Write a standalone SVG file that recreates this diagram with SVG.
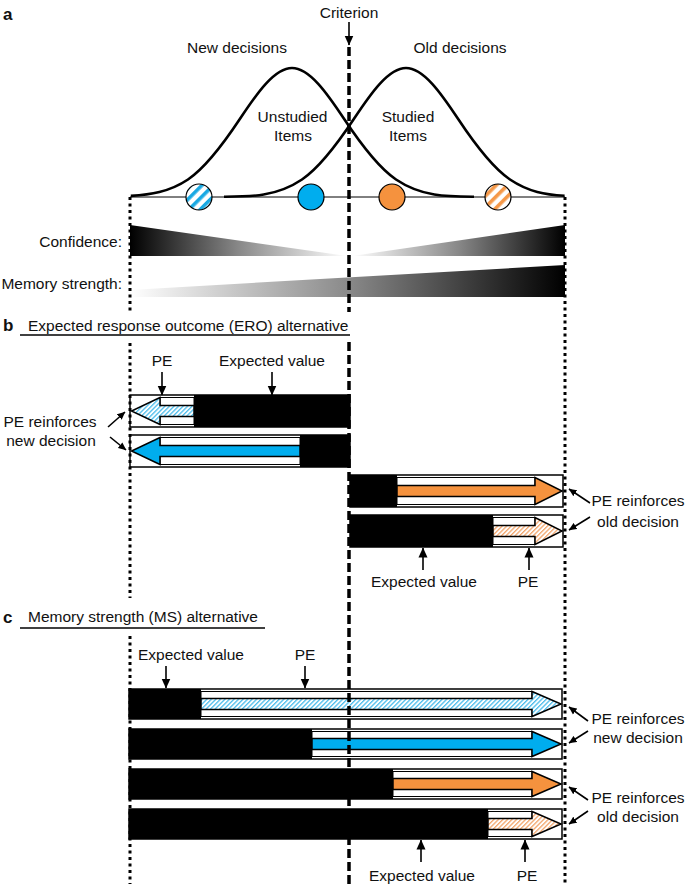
<svg xmlns="http://www.w3.org/2000/svg" width="685" height="884" viewBox="0 0 685 884">
<style>
text{font-family:"Liberation Sans",Arial,sans-serif;font-size:15.5px;fill:#111}
.lbl{font-weight:bold;font-size:17px}
.mid{text-anchor:middle}
.end{text-anchor:end}
.curve{fill:none;stroke:#000;stroke-width:2.6}
.dot{stroke:#000;stroke-width:3;stroke-dasharray:3 3.5;fill:none}
.dash{stroke:#000;stroke-width:3.5;stroke-dasharray:9 4;fill:none}
.box{fill:#fff;stroke:#000;stroke-width:1.5}
.blk{fill:#000}
.inner{fill:#fff;stroke:#000;stroke-width:1}
.arr{stroke:#000;stroke-width:1.5;stroke-linejoin:miter}
.ln{stroke:#000;stroke-width:1.6;fill:none}
.under{stroke:#000;stroke-width:1.5}
</style>
<defs>
<marker id="ah" viewBox="0 0 10 10" refX="9.5" refY="5" markerWidth="10" markerHeight="10" markerUnits="userSpaceOnUse" orient="auto"><path d="M0,0.5 L10,5 L0,9.5 z" fill="#000"/></marker>
<marker id="ahs" viewBox="0 0 10 10" refX="9.5" refY="5" markerWidth="8" markerHeight="8" markerUnits="userSpaceOnUse" orient="auto"><path d="M0,0.5 L10,5 L0,9.5 z" fill="#000"/></marker>
<pattern id="hb" width="3.2" height="3.2" patternUnits="userSpaceOnUse" patternTransform="rotate(45)"><rect width="3.2" height="3.2" fill="#fff"/><rect width="1.3" height="3.2" fill="#4dbdec"/></pattern>
<pattern id="ho" width="3.2" height="3.2" patternUnits="userSpaceOnUse" patternTransform="rotate(45)"><rect width="3.2" height="3.2" fill="#fff"/><rect width="1.3" height="3.2" fill="#f3a66c"/></pattern>
<pattern id="sb" width="8" height="8" patternUnits="userSpaceOnUse" patternTransform="rotate(45)"><rect width="8" height="8" fill="#fff"/><rect width="3.6" height="8" fill="#1aa9e3"/></pattern>
<pattern id="so" width="8" height="8" patternUnits="userSpaceOnUse" patternTransform="rotate(45)"><rect width="8" height="8" fill="#fff"/><rect width="3.6" height="8" fill="#f59848"/></pattern>
<linearGradient id="gl" gradientUnits="userSpaceOnUse" x1="130" y1="0" x2="347" y2="0"><stop offset="0" stop-color="#000"/><stop offset="0.5" stop-color="#888"/><stop offset="1" stop-color="#fff"/></linearGradient>
<linearGradient id="gr" gradientUnits="userSpaceOnUse" x1="352" y1="0" x2="565" y2="0"><stop offset="0" stop-color="#fff"/><stop offset="0.5" stop-color="#888"/><stop offset="1" stop-color="#000"/></linearGradient>
<linearGradient id="gm" gradientUnits="userSpaceOnUse" x1="130" y1="0" x2="565" y2="0"><stop offset="0" stop-color="#fff"/><stop offset="0.5" stop-color="#8a8a8a"/><stop offset="1" stop-color="#000"/></linearGradient>
</defs>

<!-- Panel a -->
<g id="panel-a">
<text class="lbl" x="3" y="20">a</text>
<text class="mid" x="349" y="17.5">Criterion</text>
<text class="mid" x="237" y="52.5">New decisions</text>
<text class="mid" x="460" y="52.5">Old decisions</text>
<line x1="130" y1="197" x2="565" y2="197" stroke="#000" stroke-width="1"/>
<path id="curve-new" class="curve" d="M130.8,195.9 C149.8,194.7 169,192.2 188,179.5 C205.3,167.9 222.7,144.9 240,118.8 C257.3,92.7 274.7,68 292,68 C309.3,68 326.7,92.7 344,118.8 C361.3,144.9 378.7,167.9 396,179.5 C422,197 448,196.7 474,196.7"/>
<path id="curve-old" class="curve" d="M224,196.7 C250,196.7 276,197 302,179.5 C319.3,167.9 336.7,144.9 354,118.8 C371.3,92.7 388.7,68 406,68 C423.3,68 440.7,92.7 458,118.8 C475.3,144.9 492.7,167.9 510,179.5 C529,192.2 545.6,194.6 564.6,195.8"/>
<text class="mid" x="292.5" y="121.5">Unstudied</text>
<text class="mid" x="293" y="140.5">Items</text>
<text class="mid" x="408" y="121.5">Studied</text>
<text class="mid" x="408" y="140.5">Items</text>
<circle cx="199" cy="197" r="13" fill="url(#sb)" stroke="#000" stroke-width="1.2"/>
<circle cx="311" cy="197" r="13" fill="#00adee" stroke="#000" stroke-width="1.2"/>
<circle cx="392" cy="197" r="13" fill="#f5923e" stroke="#000" stroke-width="1.2"/>
<circle cx="498" cy="197" r="13" fill="url(#so)" stroke="#000" stroke-width="1.2"/>
<text class="end" x="122" y="246.5">Confidence:</text>
<polygon points="130,225 347,256 130,256" fill="url(#gl)"/>
<polygon points="352,256 565,225 565,256" fill="url(#gr)"/>
<text class="end" x="122" y="288.5">Memory strength:</text>
<polygon points="130,290 565,265 565,297 130,297" fill="url(#gm)"/>
</g>

<!-- Panel b -->
<g id="panel-b-title">
<text class="lbl" x="3" y="331">b</text>
<text x="28" y="330.5">Expected response outcome (ERO) alternative</text>
<line class="under" x1="20" y1="335" x2="350" y2="335"/>
</g>
<g id="bar-b1">
<rect class="box" x="130" y="395" width="220" height="32"/>
<rect class="blk" x="194" y="395" width="156" height="32"/>
<rect class="inner" x="160" y="397.5" width="34" height="27"/>
<polygon class="arr" fill="url(#hb)" points="194,405.5 160,405.5 160,397.5 131.5,411 160,424.5 160,416.5 194,416.5"/>
</g>
<g id="bar-b2">
<rect class="box" x="130" y="435" width="220" height="32"/>
<rect class="blk" x="300" y="435" width="50" height="32"/>
<rect class="inner" x="160" y="437.5" width="140" height="27"/>
<polygon class="arr" fill="#00adee" points="300,445.5 160,445.5 160,437.5 131.5,451 160,464.5 160,456.5 300,456.5"/>
</g>
<g id="bar-b3">
<rect class="box" x="350" y="475" width="213" height="32"/>
<rect class="blk" x="350" y="475" width="47" height="32"/>
<rect class="inner" x="397" y="477.5" width="138" height="27"/>
<polygon class="arr" fill="#f5923e" points="397,485.5 535,485.5 535,477.5 562,491 535,504.5 535,496.5 397,496.5"/>
</g>
<g id="bar-b4">
<rect class="box" x="350" y="515" width="213" height="32"/>
<rect class="blk" x="350" y="515" width="143" height="32"/>
<rect class="inner" x="493" y="517.5" width="42" height="27"/>
<polygon class="arr" fill="url(#ho)" points="493,525.5 535,525.5 535,517.5 562,531 535,544.5 535,536.5 493,536.5"/>
</g>
<g id="labels-b">
<text class="mid" x="162" y="365.5">PE</text>
<text class="mid" x="272" y="365.5">Expected value</text>
<text class="mid" x="50" y="427">PE reinforces</text>
<text class="mid" x="51" y="445.5">new decision</text>
<text class="mid" x="638" y="505.5">PE reinforces</text>
<text class="mid" x="638" y="527">old decision</text>
<text class="mid" x="424" y="587">Expected value</text>
<text class="mid" x="528" y="587">PE</text>
</g>

<!-- Panel c -->
<g id="panel-c-title">
<text class="lbl" x="3" y="622.5">c</text>
<text x="28" y="622">Memory strength (MS) alternative</text>
<line class="under" x1="20" y1="628" x2="265" y2="628"/>
</g>
<g id="bar-c1">
<rect class="box" x="129" y="689" width="433" height="30"/>
<rect class="blk" x="129" y="689" width="72" height="30"/>
<rect class="inner" x="201" y="691.5" width="331" height="25"/>
<polygon class="arr" fill="url(#hb)" points="201,698.5 532,698.5 532,691.5 561,704 532,716.5 532,709.5 201,709.5"/>
</g>
<g id="bar-c2">
<rect class="box" x="129" y="729" width="433" height="30"/>
<rect class="blk" x="129" y="729" width="183" height="30"/>
<rect class="inner" x="312" y="731.5" width="220" height="25"/>
<polygon class="arr" fill="#00adee" points="312,738.5 532,738.5 532,731.5 561,744 532,756.5 532,749.5 312,749.5"/>
</g>
<g id="bar-c3">
<rect class="box" x="129" y="769" width="433" height="30"/>
<rect class="blk" x="129" y="769" width="264" height="30"/>
<rect class="inner" x="393" y="771.5" width="139" height="25"/>
<polygon class="arr" fill="#f5923e" points="393,778.5 532,778.5 532,771.5 561,784 532,796.5 532,789.5 393,789.5"/>
</g>
<g id="bar-c4">
<rect class="box" x="129" y="809" width="433" height="30"/>
<rect class="blk" x="129" y="809" width="359" height="30"/>
<rect class="inner" x="488" y="811.5" width="44" height="25"/>
<polygon class="arr" fill="url(#ho)" points="488,818.5 532,818.5 532,811.5 561,824 532,836.5 532,829.5 488,829.5"/>
</g>
<g id="labels-c">
<text class="mid" x="191" y="659.5">Expected value</text>
<text class="mid" x="305" y="659.5">PE</text>
<text class="mid" x="638" y="723.5">PE reinforces</text>
<text class="mid" x="638" y="742.5">new decision</text>
<text class="mid" x="638" y="802.5">PE reinforces</text>
<text class="mid" x="638" y="821.5">old decision</text>
<text class="mid" x="422" y="880.5">Expected value</text>
<text class="mid" x="527" y="880.5">PE</text>
</g>

<!-- guide lines -->
<g id="guides">
<line class="dot" x1="130" y1="197" x2="130" y2="311"/>
<line class="dot" x1="130" y1="343" x2="130" y2="598"/>
<line class="dot" x1="130" y1="636" x2="130" y2="884"/>
<line class="dot" x1="565" y1="197" x2="565" y2="884"/>
<line class="dash" x1="349" y1="47" x2="349" y2="312"/>
<line class="dash" x1="349" y1="342" x2="349" y2="884"/>
</g>

<!-- connectors -->
<g id="connectors">
<line class="ln" x1="349" y1="22" x2="349" y2="45" marker-end="url(#ah)"/>
<line class="ln" x1="162" y1="372" x2="162" y2="395" marker-end="url(#ah)"/>
<line class="ln" x1="272" y1="372" x2="272" y2="395" marker-end="url(#ah)"/>
<line class="ln" x1="108" y1="427" x2="125" y2="412" marker-end="url(#ahs)"/>
<line class="ln" x1="110" y1="437" x2="126" y2="450" marker-end="url(#ahs)"/>
<line class="ln" x1="590" y1="503" x2="569" y2="489" marker-end="url(#ahs)"/>
<line class="ln" x1="590" y1="517" x2="569" y2="530" marker-end="url(#ahs)"/>
<line class="ln" x1="423" y1="570" x2="423" y2="548" marker-end="url(#ah)"/>
<line class="ln" x1="529" y1="570" x2="529" y2="548" marker-end="url(#ah)"/>
<line class="ln" x1="166" y1="666" x2="166" y2="688" marker-end="url(#ah)"/>
<line class="ln" x1="305" y1="666" x2="305" y2="688" marker-end="url(#ah)"/>
<line class="ln" x1="588" y1="721" x2="569" y2="707" marker-end="url(#ahs)"/>
<line class="ln" x1="588" y1="731" x2="569" y2="743" marker-end="url(#ahs)"/>
<line class="ln" x1="588" y1="800" x2="569" y2="787" marker-end="url(#ahs)"/>
<line class="ln" x1="588" y1="811" x2="569" y2="824" marker-end="url(#ahs)"/>
<line class="ln" x1="421" y1="862" x2="421" y2="840" marker-end="url(#ah)"/>
<line class="ln" x1="525" y1="862" x2="525" y2="840" marker-end="url(#ah)"/>
</g>
</svg>
